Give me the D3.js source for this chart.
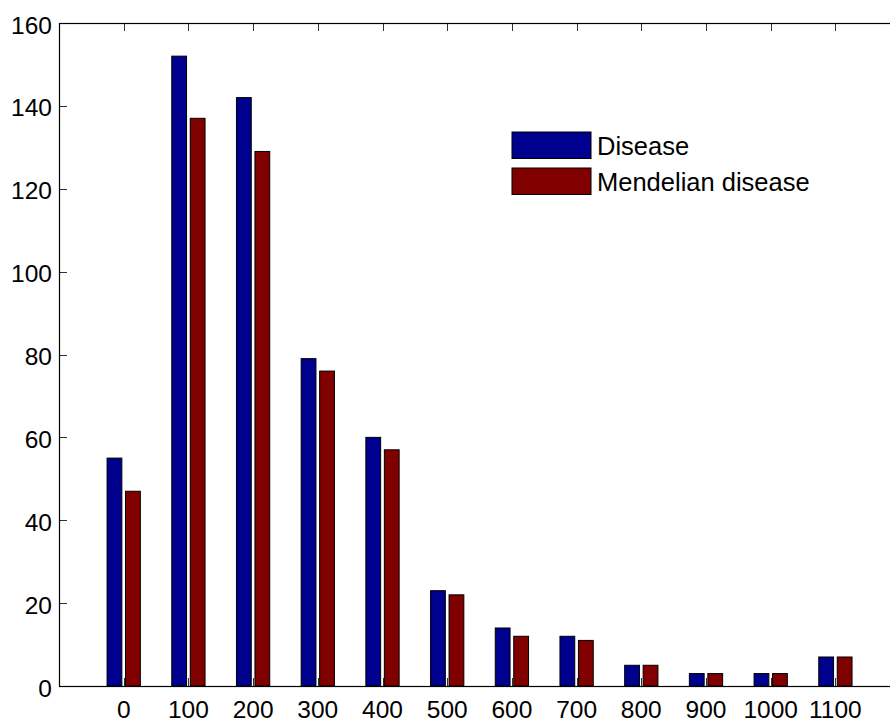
<!DOCTYPE html>
<html>
<head>
<meta charset="utf-8">
<script src="https://cdn.jsdelivr.net/npm/d3@7"></script>
<style>
  body { margin: 0; background: #fff; }
  svg { display: block; font-family: "Liberation Sans", Arial, sans-serif; }
</style>
</head>
<body>
<div class="chart"></div>
<script>
// bar chart, two series per bin

var bins = [0, 100, 200, 300, 400, 500, 600, 700, 800, 900, 1000, 1100];
var disease = [55, 152, 142, 79, 60, 23, 14, 12, 5, 3, 3, 7];
var mendelian = [47, 137, 129, 76, 57, 22, 12, 11, 5, 3, 3, 7];
var yTicks = [0, 20, 40, 60, 80, 100, 120, 140, 160];
var seriesNames = ["Disease", "Mendelian disease"];
var colors = ["#00008f", "#800000"];

var width = 890,
    height = 721,
    plotLeft = 59,
    plotTop = 23,
    plotBottom = 686,
    fs = 24.5;

var svg = d3.select(".chart").append("svg")
    .attr("width", width)
    .attr("height", height);

var xScale = d3.scaleLinear().domain([-100, 1200]).range([plotLeft, plotLeft + 13 * 64.7]);
var yScale = d3.scaleLinear().domain([0, 160]).range([plotBottom, plotTop]);

var step = xScale(100) - xScale(0);
var groupWidth = 2 / 3.5;
var barW = groupWidth / 2 * 0.8 * step;
var offs = [-groupWidth / 4 * step, groupWidth / 4 * step];

// ticks (inside the box)
var tickLen = 8;
var ticks = svg.append("g").attr("stroke", "#333").attr("stroke-width", 1);

bins.forEach(function(b) {
  var x = Math.round(xScale(b)) + 0.5;
  ticks.append("line").attr("x1", x).attr("x2", x).attr("y1", plotBottom).attr("y2", plotBottom - tickLen);
  ticks.append("line").attr("x1", x).attr("x2", x).attr("y1", plotTop).attr("y2", plotTop + tickLen);
});
yTicks.forEach(function(t) {
  var y = Math.round(yScale(t)) + 0.5;
  ticks.append("line").attr("x1", plotLeft).attr("x2", plotLeft + tickLen).attr("y1", y).attr("y2", y);
});

// bars
var rows = bins.map(function(b, i) { return { bin: b, vals: [disease[i], mendelian[i]] }; });

var groups = svg.selectAll(".grp")
    .data(rows)
    .enter()
    .append("g")
    .attr("class", "grp");

groups.selectAll("rect")
    .data(function(d) { return d.vals.map(function(v, k) { return { bin: d.bin, v: v, k: k }; }); })
    .enter()
    .append("rect")
    .attr("x", function(d) { return xScale(d.bin) + offs[d.k] - barW / 2; })
    .attr("y", function(d) { return yScale(d.v); })
    .attr("width", barW)
    .attr("height", function(d) { return yScale(0) - yScale(d.v); })
    .attr("fill", function(d) { return colors[d.k]; })
    .attr("stroke", "#000")
    .attr("stroke-width", 1);

// axes box
svg.append("rect")
    .attr("x", plotLeft + 0.5)
    .attr("y", plotTop + 0.5)
    .attr("width", xScale(1200) - plotLeft)
    .attr("height", plotBottom - plotTop)
    .attr("fill", "none")
    .attr("stroke", "#000")
    .attr("stroke-width", 1.2);

// tick labels
svg.append("g").selectAll("text")
    .data(bins)
    .enter()
    .append("text")
    .attr("x", function(d) { return xScale(d); })
    .attr("y", 718)
    .attr("text-anchor", "middle")
    .attr("font-size", fs)
    .text(function(d) { return d; });

svg.append("g").selectAll("text")
    .data(yTicks)
    .enter()
    .append("text")
    .attr("x", 52)
    .attr("y", function(d) { return yScale(d) + 10.5; })
    .attr("text-anchor", "end")
    .attr("font-size", fs)
    .text(function(d) { return d; });

// legend
var legend = svg.append("g");
seriesNames.forEach(function(name, k) {
  var y0 = 132 + k * 36;
  legend.append("rect")
      .attr("x", 512)
      .attr("y", y0)
      .attr("width", 79)
      .attr("height", 26.5)
      .attr("fill", colors[k])
      .attr("stroke", "#000")
      .attr("stroke-width", 1);
  legend.append("text")
      .attr("x", 597)
      .attr("y", y0 + 23)
      .attr("font-size", 25.5)
      .text(name);
});
</script>
</body>
</html>
